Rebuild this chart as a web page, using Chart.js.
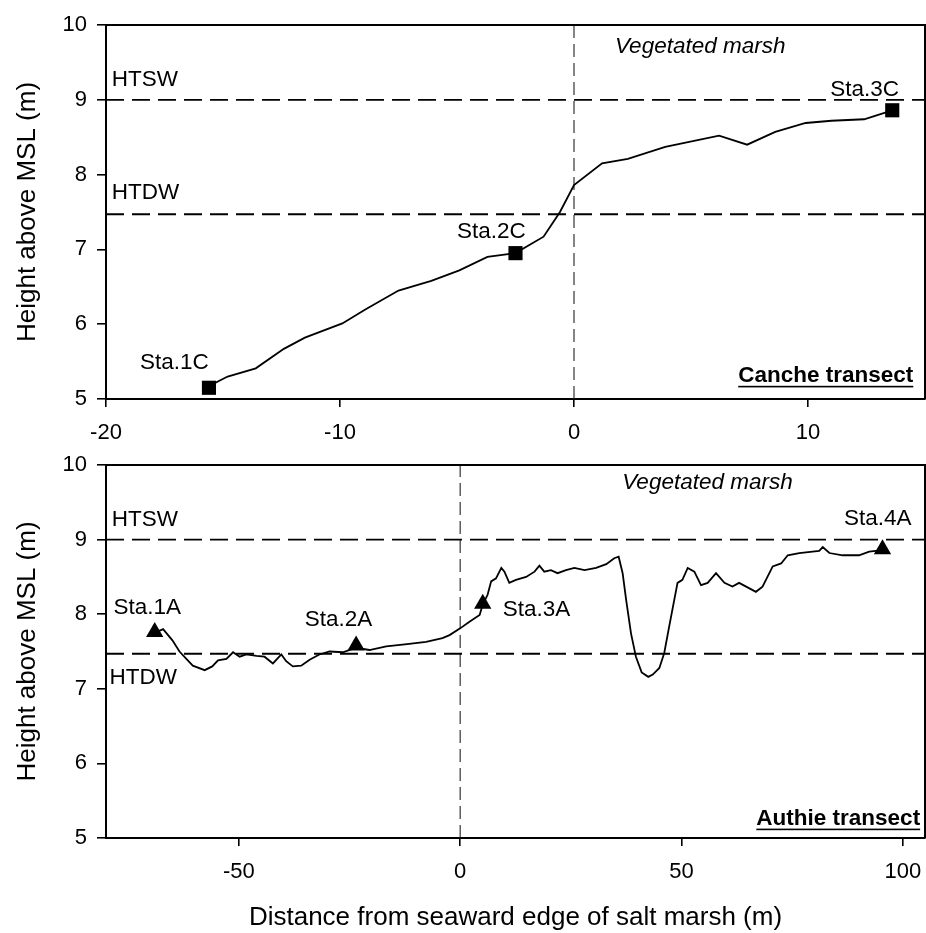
<!DOCTYPE html>
<html>
<head>
<meta charset="utf-8">
<script src="https://cdn.jsdelivr.net/npm/chart.js@4.4.1/dist/chart.umd.min.js"></script>
<style>
  body { margin: 0; background: #fff; width: 926px; height: 933px; position: relative; overflow: hidden; }
  canvas { position: absolute; left: 0; }
  #canche { top: 0; }
  #authie { top: 440px; }
</style>
</head>
<body>
<canvas id="canche" width="926" height="450" style="width:926px;height:450px"></canvas>
<canvas id="authie" width="926" height="493" style="width:926px;height:493px"></canvas>
<script>
// Canche transect profile (distance m, height m above MSL)
const canDist = [-15.6, -15.3, -14.8, -13.6, -12.4, -11.5, -9.9, -8.9, -7.5, -6.1, -4.9, -3.7, -2.5, -1.3, -0.6, 0, 1.2, 2.3, 3.9, 6.2, 7.4, 8.6, 9.9, 11, 12.4, 13.6];
const canHeight = [5.15, 5.22, 5.3, 5.41, 5.67, 5.82, 6.01, 6.2, 6.45, 6.58, 6.72, 6.9, 6.95, 7.17, 7.5, 7.86, 8.15, 8.21, 8.37, 8.52, 8.4, 8.57, 8.69, 8.72, 8.74, 8.86];
const canStations = ['Sta.1C', 'Sta.2C', 'Sta.3C'];
const canStaDist = [-15.6, -2.5, 13.6];
const canStaHeight = [5.15, 6.95, 8.86];

// Authie transect profile
const autDist = [-69, -67.1, -65, -63.4, -60.4, -57.7, -56, -54.7, -52.8, -51.3, -49.8, -48.3, -46, -44.2, -42.3, -40.4, -39.3, -37.8, -35.9, -34, -31.8, -29.5, -26.5, -23.5, -20.5, -16.7, -12, -7.7, -4, -2.4, 0, 2.1, 4.4, 5.1, 6.2, 7, 8.1, 9.3, 10, 11.1, 12.6, 14.9, 16.8, 17.9, 19, 20.5, 22, 23.9, 25.8, 28.1, 30.7, 33, 34.8, 35.8, 36.7, 37.5, 38.6, 39.7, 41, 42.5, 43.5, 45, 46.1, 47.2, 49.1, 50.2, 51.4, 52.9, 54.4, 55.9, 57.8, 59.7, 61.5, 63, 64.6, 66.8, 68.3, 70.6, 72.5, 74, 76.6, 79.6, 81.1, 81.9, 83.4, 86.4, 90.1, 92.4, 95.4];
const autHeight = [7.75, 7.8, 7.65, 7.5, 7.31, 7.25, 7.3, 7.38, 7.4, 7.49, 7.43, 7.46, 7.44, 7.43, 7.34, 7.46, 7.37, 7.3, 7.31, 7.39, 7.46, 7.5, 7.49, 7.55, 7.52, 7.57, 7.6, 7.63, 7.68, 7.72, 7.81, 7.9, 7.99, 8.13, 8.26, 8.44, 8.48, 8.62, 8.57, 8.42, 8.46, 8.5, 8.57, 8.65, 8.57, 8.59, 8.55, 8.59, 8.62, 8.59, 8.62, 8.67, 8.75, 8.77, 8.55, 8.19, 7.74, 7.43, 7.22, 7.16, 7.19, 7.28, 7.48, 7.83, 8.42, 8.46, 8.62, 8.57, 8.39, 8.42, 8.55, 8.42, 8.37, 8.42, 8.37, 8.3, 8.37, 8.64, 8.68, 8.79, 8.82, 8.84, 8.85, 8.9, 8.82, 8.79, 8.79, 8.84, 8.86];
const autStations = ['Sta.1A', 'Sta.2A', 'Sta.3A', 'Sta.4A'];
const autStaDist = [-69, -23.5, 5.1, 95.4];
const autStaHeight = [7.76, 7.58, 8.14, 8.87];

// tide levels and axes
const HTSW = 9.0;
const HTDW = 7.47;
const yTicks = [5, 6, 7, 8, 9, 10];
const canXTicks = [-20, -10, 0, 10];
const autXTicks = [-50, 0, 50, 100];

const FONT = '"Liberation Sans", Arial, sans-serif';
Chart.defaults.font.family = FONT;
Chart.defaults.color = '#000';

const pts = (xs, ys) => xs.map((v, i) => ({ x: v, y: ys[i] }));

// text labels placed in data units
const canNotes = [
  { text: 'HTSW', x: -19.75, y: 9.27 },
  { text: 'HTDW', x: -19.75, y: 7.76 },
  { text: 'Vegetated marsh', x: 1.75, y: 9.71, style: 'italic' },
  { text: canStations[0], x: -18.55, y: 5.49 },
  { text: canStations[1], x: -5.0, y: 7.23 },
  { text: canStations[2], x: 10.95, y: 9.13 },
  { text: 'Canche transect', x: 14.5, y: 5.31, style: 'bold', align: 'right', underline: true }
];
const autNotes = [
  { text: 'HTSW', x: -78.7, y: 9.27 },
  { text: 'HTDW', x: -79.2, y: 7.15 },
  { text: 'Vegetated marsh', x: 36.6, y: 9.76, style: 'italic' },
  { text: autStations[0], x: -78.3, y: 8.08 },
  { text: autStations[1], x: -35.1, y: 7.92 },
  { text: autStations[2], x: 9.6, y: 8.06 },
  { text: autStations[3], x: 86.7, y: 9.28 },
  { text: 'Authie transect', x: 103.9, y: 5.26, style: 'bold', align: 'right', underline: true }
];

function notesPlugin(notes) {
  return {
    id: 'notes',
    afterDraw(chart) {
      const { ctx, chartArea: a, scales: { x, y } } = chart;
      ctx.save();
      // closing frame (top and right edges of the plot box)
      ctx.strokeStyle = '#000';
      ctx.lineWidth = 2;
      ctx.beginPath();
      ctx.moveTo(a.left, a.top);
      ctx.lineTo(a.right, a.top);
      ctx.lineTo(a.right, a.bottom);
      ctx.stroke();

      ctx.fillStyle = '#000';
      ctx.textBaseline = 'middle';
      notes.forEach(n => {
        ctx.font = `${n.style || ''} 22.5px ${FONT}`;
        ctx.textAlign = n.align || 'left';
        const px = x.getPixelForValue(n.x);
        const py = y.getPixelForValue(n.y);
        ctx.fillText(n.text, px, py);
        if (n.underline) {
          const w = ctx.measureText(n.text).width;
          const x0 = n.align === 'right' ? px - w : px;
          ctx.fillRect(x0, py + 10, w, 1.6);
        }
      });
      ctx.restore();
    }
  };
}

function makeChart(id, o) {
  const axisGrid = { display: true, drawOnChartArea: false, drawTicks: true, color: '#000', lineWidth: 1.6 };
  const axisBorder = { display: true, color: '#000', width: 2 };
  return new Chart(document.getElementById(id), {
    type: 'scatter',
    data: {
      datasets: [
        {
          data: pts(o.staDist, o.staHeight),
          pointStyle: o.marker, pointRadius: o.markerR,
          backgroundColor: '#000', borderColor: '#000', borderWidth: 0, showLine: false
        },
        {
          data: pts(o.dist, o.height), showLine: true,
          borderColor: '#000', borderWidth: 1.8, pointRadius: 0, tension: 0
        },
        {
          data: pts([o.xMin, o.xMax], [HTSW, HTSW]), showLine: true,
          borderColor: '#000', borderWidth: 1.8, borderDash: [18, 8], pointRadius: 0
        },
        {
          data: pts([o.xMin, o.xMax], [HTDW, HTDW]), showLine: true,
          borderColor: '#000', borderWidth: 1.8, borderDash: [18, 8], pointRadius: 0
        },
        {
          data: pts([0, 0], [5, 10]), showLine: true,
          borderColor: '#222', borderWidth: 1.1, borderDash: [13, 6], pointRadius: 0
        }
      ]
    },
    options: {
      responsive: false, animation: false, devicePixelRatio: 1,
      layout: { autoPadding: false, padding: { top: 25, right: 1, left: 0, bottom: 0 } },
      plugins: { legend: { display: false }, tooltip: { enabled: false } },
      scales: {
        x: {
          type: 'linear', min: o.xMin, max: o.xMax,
          afterBuildTicks: s => { s.ticks = o.xTicks.map(v => ({ value: v })); },
          grid: { ...axisGrid, tickLength: 8 },
          border: axisBorder,
          ticks: { padding: 13, font: { size: 22 }, color: '#000', maxRotation: 0, autoSkip: false },
          title: o.xTitle
            ? { display: true, text: o.xTitle, font: { size: 26 }, color: '#000', padding: { top: 0, bottom: 0 } }
            : { display: false },
          afterFit: s => { s.height = o.xAxisH; s.paddingLeft = 0; s.paddingRight = 0; }
        },
        y: {
          type: 'linear', min: 5, max: 10,
          afterBuildTicks: s => { s.ticks = yTicks.map(v => ({ value: v })); },
          grid: { ...axisGrid, tickLength: 9 },
          border: axisBorder,
          ticks: { padding: 10, font: { size: 22 }, color: '#000' },
          title: { display: true, text: 'Height above MSL (m)', font: { size: 26 }, color: '#000', padding: { top: 12, bottom: 0 } },
          afterFit: s => { s.width = 106; s.paddingTop = 0; s.paddingBottom = 0; }
        }
      }
    },
    plugins: [notesPlugin(o.notes)]
  });
}

makeChart('canche', {
  dist: canDist, height: canHeight, staDist: canStaDist, staHeight: canStaHeight,
  marker: 'rect', markerR: 10, xMin: -20, xMax: 15, xTicks: canXTicks,
  xAxisH: 51, notes: canNotes
});

makeChart('authie', {
  dist: autDist, height: autHeight, staDist: autStaDist, staHeight: autStaHeight,
  marker: 'triangle', markerR: 10, xMin: -80, xMax: 105, xTicks: autXTicks,
  xTitle: 'Distance from seaward edge of salt marsh (m)',
  xAxisH: 95, notes: autNotes
});
</script>
</body>
</html>
